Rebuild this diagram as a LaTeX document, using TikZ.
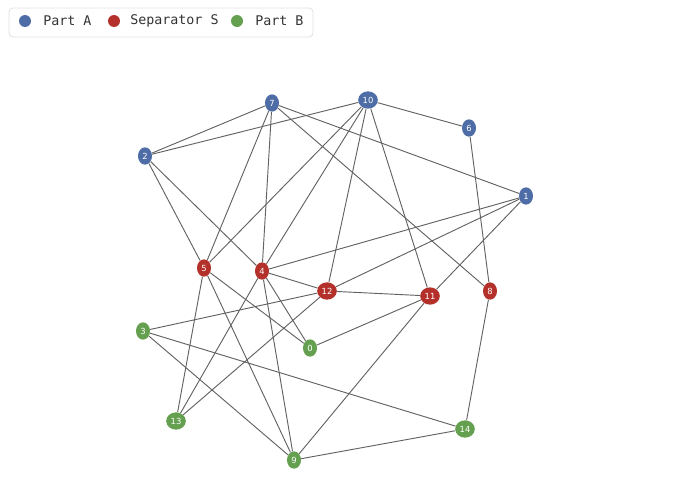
\documentclass[tikz,border=0pt]{standalone}
\usepackage{fontspec}
\setmainfont{DejaVu Sans}
\setmonofont{DejaVu Sans Mono}
\usetikzlibrary{shapes.geometric,positioning}
\definecolor{partA}{HTML}{4E6DA6}
\definecolor{sepS}{HTML}{B3312A}
\definecolor{partB}{HTML}{64A050}
\definecolor{edgecol}{HTML}{626262}

\begin{document}
\begin{tikzpicture}[
  x=0.75pt, y=-0.75pt,
  v/.style={ellipse, draw=none, inner sep=1.2pt, minimum width=10.5pt,
            minimum height=13pt, text=white, font=\fontsize{6.3}{6.3}\selectfont},
  va/.style={v, fill=partA},
  vs/.style={v, fill=sepS},
  vb/.style={v, fill=partB},
  e/.style={draw=edgecol, line width=0.7pt},
  dot/.style={circle, inner sep=0pt, minimum size=9pt},
  keytxt/.style={anchor=west, inner sep=0pt, font=\ttfamily\fontsize{10}{12}\selectfont,
                 text=black!80}]

\useasboundingbox (0,0) rectangle (674,500);

% legend
\node[draw=black!12, rounded corners=3pt, line width=0.6pt, minimum width=228pt,
      minimum height=21.75pt, inner sep=0pt] (legend) at (161,22.5) {};
\node[dot, fill=partA] (keyA) at (25,21) {};
\node[keytxt] (txtA) at (43,21) {Part A};
\node[dot, fill=sepS] (keyS) at (114,21) {};
\node[keytxt] (txtS) at (130,21) {Separator S};
\node[dot, fill=partB] (keyB) at (237,21) {};
\node[keytxt] (txtB) at (255,21) {Part B};

% vertices
\foreach \i/\x/\y in {7/272/103, 10/368/100, 6/469/128, 2/145/156, 1/526/196}
  \node[va] (n\i) at (\x,\y) {\i};
\foreach \i/\x/\y in {5/204/268, 4/262/271, 12/327/291, 11/430/296, 8/490/291}
  \node[vs] (n\i) at (\x,\y) {\i};
\foreach \i/\x/\y in {3/143/331, 0/310/348, 13/176/421, 14/465/429, 9/294/460}
  \node[vb] (n\i) at (\x,\y) {\i};

% edges
\foreach \a/\b in {2/7, 2/10, 2/5, 2/4, 7/5, 7/4, 7/8, 7/1,
                   10/6, 10/5, 10/4, 10/12, 10/11, 6/8,
                   1/4, 1/12, 1/11, 5/0, 5/13, 5/9,
                   4/12, 4/0, 4/13, 4/9, 12/11, 12/3, 12/13,
                   11/0, 11/9, 8/14, 3/9, 3/14, 14/9}
  \draw[e] (n\a) -- (n\b);
\end{tikzpicture}
\end{document}
